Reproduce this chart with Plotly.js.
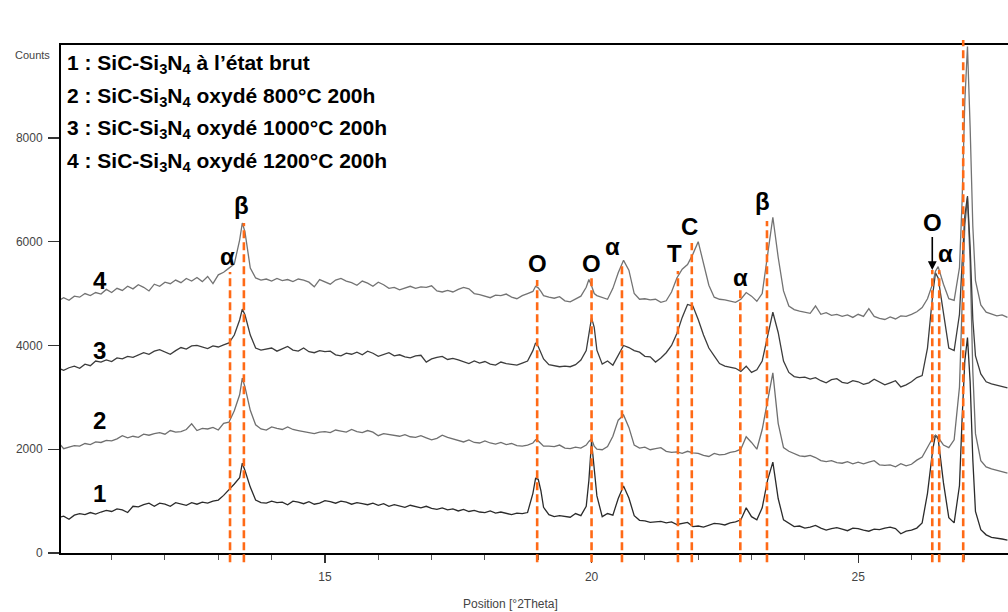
<!DOCTYPE html>
<html><head><meta charset="utf-8">
<script src="https://cdn.plot.ly/plotly-3.0.1.min.js"></script>
<style>html,body{margin:0;padding:0;background:#fff;} #chart{width:1008px;height:612px;}</style>
</head><body><div id="chart"></div>
<script>
const twoTheta = [
10.0,10.1,10.2,10.3,10.4,10.5,10.6,10.7,10.8,10.9,
11.0,11.1,11.2,11.3,11.4,11.5,11.6,11.7,11.8,11.9,
12.0,12.1,12.2,12.3,12.4,12.5,12.6,12.7,12.8,12.9,
13.0,13.1,13.2,13.3,13.4,13.45,13.5,13.6,13.7,13.8,13.9,
14.0,14.1,14.2,14.3,14.4,14.5,14.6,14.7,14.8,14.9,
15.0,15.1,15.2,15.3,15.4,15.5,15.6,15.7,15.8,15.9,
16.0,16.1,16.2,16.3,16.4,16.5,16.6,16.7,16.8,16.9,
17.0,17.1,17.2,17.3,17.4,17.5,17.6,17.7,17.8,17.9,
18.0,18.1,18.2,18.3,18.4,18.5,18.6,18.7,18.8,18.9,18.95,
19.0,19.05,19.1,19.2,19.3,19.4,19.5,19.6,19.7,19.8,19.9,19.95,
20.0,20.05,20.1,20.2,20.3,20.4,20.5,20.6,20.7,20.8,20.9,
21.0,21.1,21.2,21.3,21.4,21.5,21.6,21.7,21.8,21.9,
22.0,22.1,22.2,22.3,22.4,22.5,22.6,22.7,22.8,22.9,
23.0,23.1,23.2,23.3,23.4,23.5,23.6,23.7,23.8,23.9,
24.0,24.1,24.2,24.3,24.4,24.5,24.6,24.7,24.8,24.9,
25.0,25.1,25.2,25.3,25.4,25.5,25.6,25.7,25.8,25.9,
26.0,26.1,26.2,26.3,26.4,26.45,26.5,26.6,26.7,26.8,26.9,26.95,
27.0,27.05,27.1,27.15,27.2,27.3,27.4,27.5,27.6,27.7,27.8
];

// 1 : raw
const counts1 = [
680,710,650,730,760,740,780,750,790,820,
800,850,830,780,900,890,930,960,900,960,
940,900,970,950,920,970,940,980,960,1000,
1020,1110,1210,1330,1450,1730,1590,1270,1020,970,960,
1000,970,980,930,1000,980,950,990,940,960,
1010,990,960,1000,980,940,970,950,930,960,
920,950,900,930,910,880,920,890,870,900,
860,840,870,830,850,810,840,800,820,790,
780,810,770,790,760,740,770,760,780,1150,1440,
1420,1200,880,740,700,720,700,690,760,720,900,1400,
2150,1650,1100,700,760,730,1050,1290,1060,720,630,
620,590,600,610,580,600,550,570,590,510,
520,500,540,570,560,540,580,600,640,870,
700,640,870,1400,1750,1050,640,570,510,520,
480,500,530,480,440,470,490,460,430,480,
470,440,420,460,450,480,500,470,370,420,
440,480,580,1150,2000,2270,2200,1350,680,580,1300,2600,
3700,4150,3300,1800,800,450,350,300,290,270,250
];

// 2 : 800 °C
const counts2 = [
2130,2010,2040,2070,2060,2110,2090,2140,2130,2170,
2160,2200,2260,2220,2250,2230,2290,2270,2300,2320,
2290,2360,2330,2340,2380,2490,2360,2400,2390,2420,
2370,2500,2520,2740,3050,3370,3200,2750,2470,2390,2370,
2430,2400,2380,2430,2380,2360,2340,2310,2300,2330,
2340,2320,2370,2350,2330,2380,2340,2320,2360,2330,
2260,2300,2280,2260,2250,2280,2240,2230,2260,2220,
2180,2210,2270,2230,2200,2160,2140,2180,2130,2120,
2160,2120,2100,2130,2090,2110,2070,2060,2080,2120,2180,
2160,2100,2060,2060,2050,2080,2020,2010,2040,2020,2080,2150,
2200,2060,2000,1990,2050,2250,2560,2660,2420,2080,2020,
2040,1990,2010,2030,1960,1940,1950,1920,1960,1930,
1920,1880,1860,1920,1890,1900,1940,1960,2000,2240,
2130,2000,2380,2950,3470,2500,2030,1960,1920,1870,
1860,1880,1840,1780,1760,1780,1740,1730,1760,1720,
1750,1720,1750,1780,1700,1690,1700,1660,1720,1680,
1710,1790,1850,2050,2220,2270,2230,2080,2030,2180,3200,4800,
6300,6850,5600,3500,2300,1780,1660,1620,1590,1570,1540
];

// 3 : 1000 °C
const counts3 = [
3560,3520,3570,3600,3560,3640,3610,3700,3680,3720,
3690,3760,3740,3790,3770,3820,3860,3830,3890,3920,
3880,3830,3900,3960,3930,3990,4000,3970,3940,3990,
3970,4010,4050,4200,4490,4700,4590,4200,3950,3910,3930,
3950,3890,3930,3980,3910,3890,3950,3880,3860,3900,
3880,3890,3820,3800,3850,3830,3870,3820,3890,3850,
3790,3830,3860,3800,3820,3780,3760,3800,3810,3680,
3740,3770,3790,3730,3750,3720,3680,3650,3700,3660,
3690,3640,3620,3680,3650,3630,3620,3660,3700,3900,4050,
3980,3860,3740,3630,3610,3590,3600,3590,3630,3720,3900,4200,
4530,4350,3910,3640,3700,3620,3820,4000,3960,3900,3870,
3790,3780,3680,3760,3860,4000,4230,4540,4790,4760,
4500,4200,3950,3800,3650,3600,3580,3560,3500,3600,
3480,3530,3700,4150,4640,4250,3700,3480,3400,3380,
3390,3350,3380,3320,3280,3340,3360,3290,3270,3320,
3300,3250,3280,3350,3290,3240,3280,3320,3200,3240,
3300,3380,3420,3950,5000,5400,5300,4600,3950,3900,4600,5600,
6500,6880,5900,4500,3800,3450,3300,3260,3230,3200,3180
];

// 4 : 1200 °C
const counts4 = [
4860,4920,4870,4950,4930,5000,4960,5020,4990,5080,
5020,5100,5060,5140,5090,5170,5120,5050,5180,5140,
5220,5190,5260,5210,5290,5240,5310,5230,5330,5190,
5360,5410,5490,5570,6030,6360,6190,5490,5300,5260,5280,
5240,5290,5250,5270,5230,5280,5260,5220,5130,5270,
5230,5180,5260,5290,5240,5210,5160,5240,5200,5140,
5220,5170,5100,5120,5070,5110,5140,5100,5130,5120,
5150,5050,5030,5060,5030,5080,5120,5090,5000,4980,
4950,4920,4970,4960,4990,4930,4900,4960,5000,5040,5140,
5110,5040,4960,4930,4910,4940,4860,4840,4900,4950,5120,5270,
5150,5000,4960,4920,4890,5100,5400,5640,5450,5000,4890,
4900,4880,4890,4830,4860,5030,5300,5470,5560,5760,
6000,5560,5160,4930,4890,4880,4860,4830,4890,5020,
4950,4850,5000,5700,6470,5700,5050,4760,4690,4660,
4640,4620,4760,4600,4630,4580,4600,4560,4590,4540,
4600,4560,4710,4560,4520,4500,4550,4510,4570,4560,
4600,4650,4730,4900,5200,5430,5520,5180,4900,4870,5500,6800,
8700,9760,8200,6300,5250,4780,4640,4600,4570,4590,4540
];

const seriesCounts = [counts1, counts2, counts3, counts4];
const seriesColors = ['#2b2b2b', '#6f6f6f', '#3c3c3c', '#737373'];
const curveNames = ['1', '2', '3', '4'];
const curveLabelX = [10.78, 10.78, 10.78, 10.78];
const curveLabelY = [1156, 2563, 3911, 5260];

const legendLines = [
  '1 : SiC-Si<sub>3</sub>N<sub>4</sub> à l’état brut',
  '2 : SiC-Si<sub>3</sub>N<sub>4</sub> oxydé 800°C 200h',
  '3 : SiC-Si<sub>3</sub>N<sub>4</sub> oxydé 1000°C 200h',
  '4 : SiC-Si<sub>3</sub>N<sub>4</sub> oxydé 1200°C 200h'
];
const legendY = [0.9626, 0.8976, 0.8346, 0.7697];

const peakPos = [13.22, 13.48, 18.98, 20.0, 20.57, 21.62, 21.88, 22.79, 23.29, 26.39, 26.52, 26.97];
const peakTop = [5414, 6358, 5260, 5318, 5530, 5434, 5973, 5125, 6397, 5453, 5453, 9884];
const peakLabel = ['α', 'β', 'O', 'O', 'α', 'T', 'C', 'α', 'β', 'O', 'α', 'β'];
const labelX = [13.18, 13.44, 18.98, 19.99, 20.40, 21.55, 21.83, 22.80, 23.20, 26.39, 26.63, 26.99];
const labelY = [5723, 6705, 5588, 5588, 5915, 5780, 6300, 5318, 6782, 6378, 5780, 10231];
const labelArrow = [0, 0, 0, 0, 0, 0, 0, 0, 0, 1, 0, 0];

const xRange = [10.05, 27.81];
const yRange = [0, 9790];
const yTicks = [0, 2000, 4000, 6000, 8000];
const xTicks = [15, 20, 25];

const traces = seriesCounts.map((c, i) => ({
  x: twoTheta, y: c, type: 'scatter', mode: 'lines',
  line: {color: seriesColors[i], width: 1.3},
  hoverinfo: 'skip', showlegend: false
}));

const LBL = 'Liberation Sans, Arial, sans-serif';
const annotations = [];
legendLines.forEach((t, i) => annotations.push({
  xref: 'paper', yref: 'paper', x: 0.0045, y: legendY[i], xanchor: 'left', yanchor: 'middle',
  text: '<b>' + t + '</b>', showarrow: false, font: {family: LBL, size: 21, color: '#000'}
}));
curveNames.forEach((t, i) => annotations.push({
  xref: 'x', yref: 'y', x: curveLabelX[i], y: curveLabelY[i], text: '<b>' + t + '</b>',
  xanchor: 'center', yanchor: 'middle',
  showarrow: false, font: {family: LBL, size: 24, color: '#000'}
}));
peakLabel.forEach((t, i) => {
  if (labelArrow[i]) {
    annotations.push({
      xref: 'x', yref: 'y', x: peakPos[i], y: peakTop[i], axref: 'x', ayref: 'y',
      ax: labelX[i], ay: labelY[i], text: '<b>' + t + '</b>', showarrow: true,
      arrowhead: 2, arrowsize: 1.1, arrowwidth: 1.6, arrowcolor: '#000', standoff: 0,
      font: {family: LBL, size: 24, color: '#000'}
    });
  } else {
    annotations.push({
      xref: 'x', yref: 'y', x: labelX[i], y: labelY[i], text: '<b>' + t + '</b>',
      xanchor: 'center', yanchor: 'middle',
      showarrow: false, font: {family: LBL, size: 24, color: '#000'}
    });
  }
});
annotations.push({
  xref: 'paper', yref: 'paper', x: -0.0095, y: 0.98, xanchor: 'right', yanchor: 'middle',
  text: 'Counts', showarrow: false, font: {family: LBL, size: 11, color: '#444'}
});
annotations.push({
  xref: 'paper', yref: 'paper', x: 0.475, y: -0.1004, xanchor: 'center', yanchor: 'middle',
  text: 'Position [°2Theta]', showarrow: false, font: {family: LBL, size: 12, color: '#444'}
});

const shapes = peakPos.map((p, i) => ({
  type: 'line', xref: 'x', yref: 'paper', layer: 'above',
  x0: p, x1: p, y0: -0.018, y1: (peakTop[i] - yRange[0]) / (yRange[1] - yRange[0]),
  line: {color: '#ff6a16', width: 2.6, dash: '8px,4px'}
}));

const layout = {
  width: 1008, height: 612,
  margin: {l: 61, r: 0, t: 45, b: 59, pad: 0},
  paper_bgcolor: '#fff', plot_bgcolor: '#fff',
  showlegend: false,
  xaxis: {
    range: xRange, tickvals: xTicks, ticks: 'outside', ticklen: 8, tickwidth: 1.3, tickcolor: '#333',
    minor: {dtick: 1, tick0: 10, ticks: 'outside', ticklen: 5, tickwidth: 1, tickcolor: '#555'},
    showline: true, linewidth: 2, linecolor: '#000', mirror: true,
    showgrid: false, zeroline: false, ticklabelstandoff: 4,
    tickfont: {family: LBL, size: 12, color: '#444'}
  },
  yaxis: {
    range: yRange, tickvals: yTicks, ticks: 'outside', ticklen: 11, tickwidth: 1.3, tickcolor: '#333',
    showline: true, linewidth: 2, linecolor: '#000', mirror: false,
    showgrid: false, zeroline: false, ticklabelstandoff: 3,
    tickfont: {family: LBL, size: 12, color: '#444'}
  },
  annotations: annotations,
  shapes: shapes
};

Plotly.newPlot('chart', traces, layout, {staticPlot: true, displayModeBar: false});
</script>
</body></html>
